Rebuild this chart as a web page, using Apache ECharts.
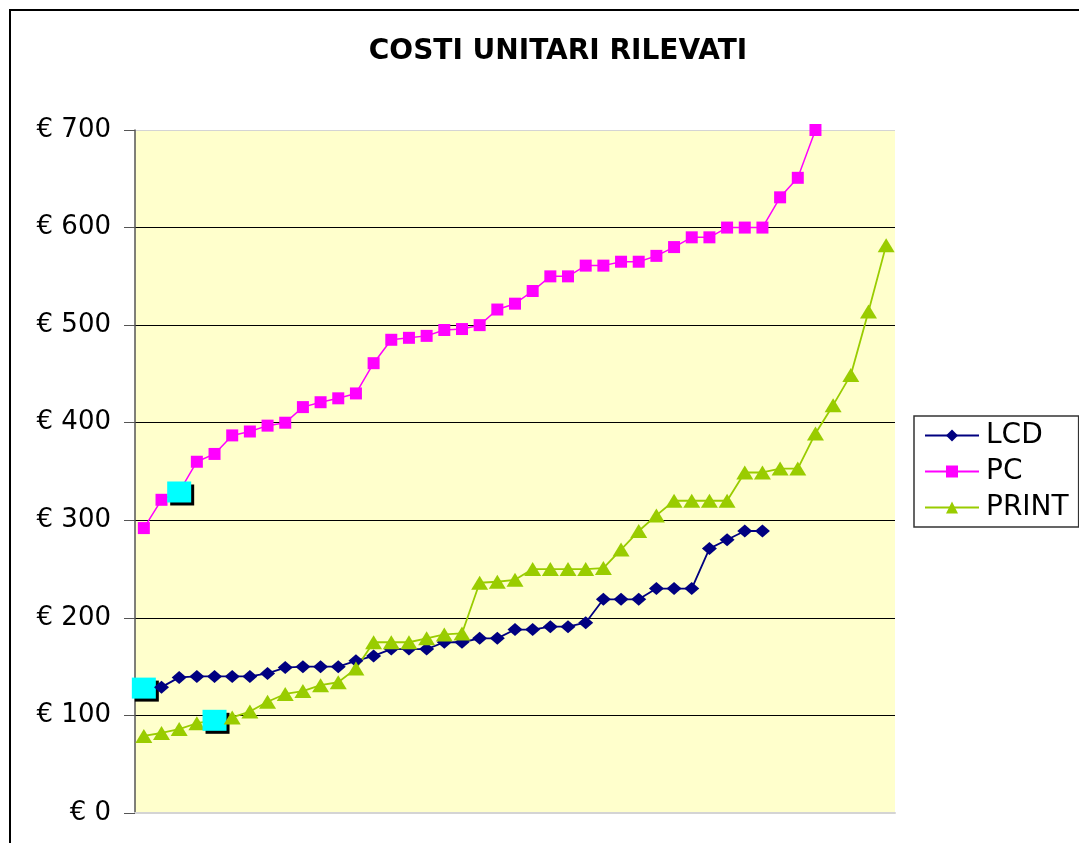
<!DOCTYPE html>
<html>
<head>
<meta charset="utf-8">
<script src="https://cdn.jsdelivr.net/npm/echarts@6/dist/echarts.min.js"></script>
<style>
  html, body { margin: 0; padding: 0; background: #fff; }
  #chart { width: 1079px; height: 843px; }
</style>
</head>
<body>
<div id="chart"></div>
<script>
// values
const categories = Array.from({ length: 43 }, (_, i) => String(i + 1));

const lcd = [128, 129, 139, 140, 140, 140, 140, 143, 149, 150, 150, 150, 156, 161, 168, 168, 168, 175, 175, 179, 179,
    188, 188, 191, 191, 195, 219, 219, 219, 230, 230, 230, 271, 280, 289, 289];

const pc = [292, 321, 329, 360, 368, 387, 391, 397, 400, 416, 421, 425, 430, 461, 485, 487, 489, 495, 496, 500,
    516, 522, 535, 550, 550, 561, 561, 565, 565, 571, 580, 590, 590, 600, 600, 600, 631, 651, 700];

const print = [79, 82, 86, 92, 95, 98, 104, 114, 122, 125, 131, 134, 148, 175, 175, 175, 179, 183, 184, 236, 237,
    239, 250, 250, 250, 250, 251, 270, 289, 305, 320, 320, 320, 320, 349, 349, 353, 353, 389, 418, 449, 514, 582];

// index of the point marked with the big cyan square in each series
const markedLcd = 0;
const markedPc = 2;
const markedPrint = 4;

const yTicks = [0, 700, 100];

const FONT = 'DejaVu Sans';

function withMark(values, markIndex) {
    return values.map((v, i) => {
        if (i !== markIndex) return v;
        return {
            value: v,
            symbol: 'rect',
            symbolSize: [24, 21],
            itemStyle: {
                color: '#00FFFF',
                shadowColor: '#000',
                shadowBlur: 0,
                shadowOffsetX: 3,
                shadowOffsetY: 3
            }
        };
    });
}

const chart = echarts.init(document.getElementById('chart'), null, { renderer: 'canvas' });

const option = {
    backgroundColor: '#fff',
    animation: false,
    title: {
        text: 'COSTI UNITARI RILEVATI',
        left: 553,
        textAlign: 'center',
        top: 33,
        textStyle: {
            fontFamily: FONT,
            fontWeight: 'bold',
            fontSize: 28,
            color: '#000'
        }
    },
    legend: {
        orient: 'vertical',
        left: 914,
        top: 416,
        padding: [4, 10, 4, 10],
        itemGap: 5,
        itemWidth: 54,
        itemHeight: 15,
        borderColor: '#333',
        borderWidth: 1.5,
        textStyle: {
            fontFamily: FONT,
            fontSize: 28,
            lineHeight: 31,
            color: '#000',
            padding: [0, 0, 0, 2]
        },
        data: ['LCD', 'PC', 'PRINT']
    },
    graphic: [{
        type: 'rect',
        shape: { x: 10, y: 10, width: 1100, height: 900 },
        style: { fill: null, stroke: '#000', lineWidth: 2 },
        silent: true
    }],
    grid: {
        left: 135,
        right: 184,
        top: 130,
        bottom: 30,
        show: true,
        backgroundColor: '#FFFFCC',
        borderWidth: 0
    },
    xAxis: {
        type: 'category',
        data: categories,
        boundaryGap: true,
        axisLine: { show: true, lineStyle: { color: '#d4d4d4', width: 2 } },
        axisTick: { show: false },
        axisLabel: { show: false },
        splitLine: { show: false }
    },
    yAxis: {
        type: 'value',
        min: yTicks[0],
        max: yTicks[1],
        interval: yTicks[2],
        axisLine: { show: true, lineStyle: { color: '#555', width: 1.5 } },
        axisTick: { show: true, inside: false, length: 11, lineStyle: { color: '#555' } },
        axisLabel: {
            margin: 24,
            fontFamily: FONT,
            fontSize: 26,
            color: '#000',
            formatter: v => '€ ' + v
        },
        splitLine: {
            show: true,
            lineStyle: {
                color: ['#d4d4d4', '#000', '#000', '#000', '#000', '#000', '#000', '#d4d4d4'],
                width: 1
            }
        }
    },
    series: [
        {
            name: 'LCD',
            type: 'line',
            data: withMark(lcd, markedLcd),
            color: '#000080',
            symbol: 'diamond',
            symbolSize: [15, 13],
            showAllSymbol: true,
            lineStyle: { width: 1.8, color: '#000080' }
        },
        {
            name: 'PC',
            type: 'line',
            data: withMark(pc, markedPc),
            color: '#FF00FF',
            symbol: 'rect',
            symbolSize: 12,
            showAllSymbol: true,
            lineStyle: { width: 1.5, color: '#FF00FF' }
        },
        {
            name: 'PRINT',
            type: 'line',
            data: withMark(print, markedPrint),
            color: '#99CC00',
            symbol: 'triangle',
            symbolSize: [17, 14],
            showAllSymbol: true,
            lineStyle: { width: 1.8, color: '#99CC00' }
        }
    ]
};

chart.setOption(option);
</script>
</body>
</html>
